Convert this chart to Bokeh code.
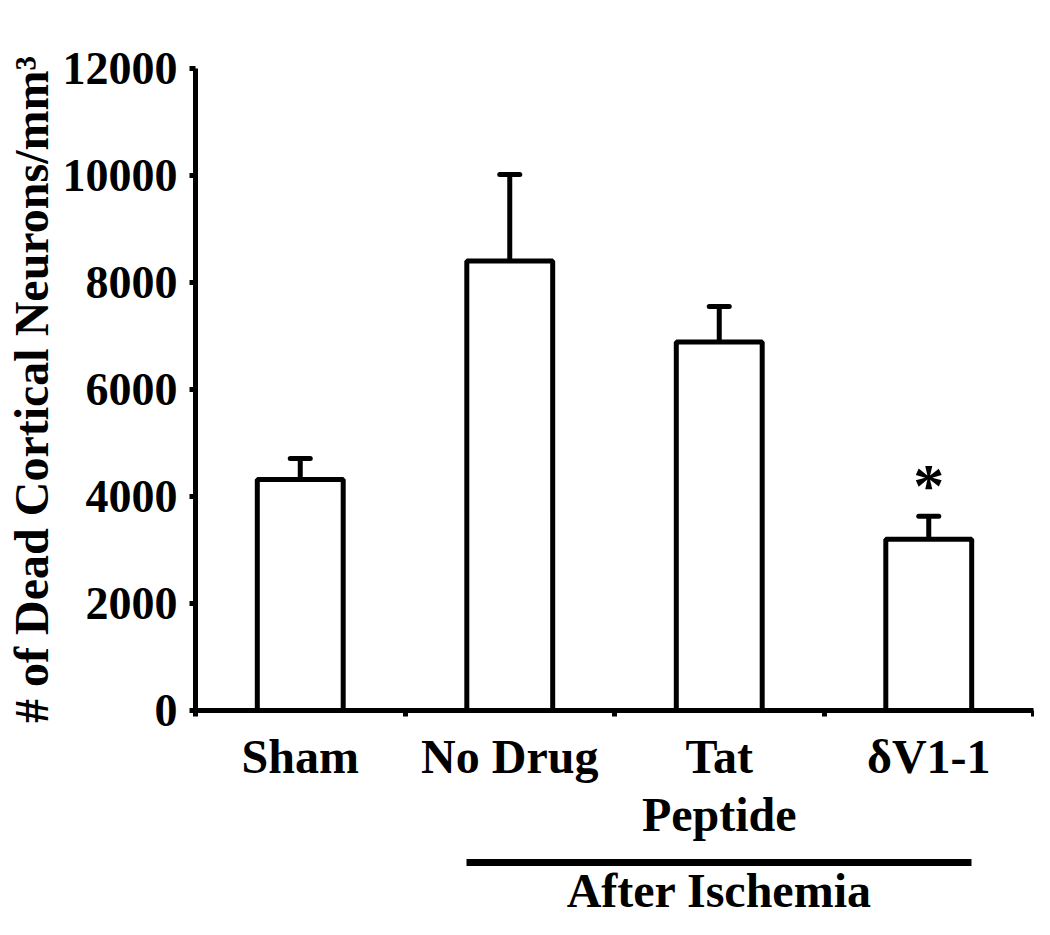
import numpy as np
from bokeh.plotting import figure
from bokeh.models import (ColumnDataSource, Range1d, LinearAxis, FixedTicker,
                          Whisker, TeeHead)
from bokeh.core.properties import value
from bokeh.embed import file_html
from bokeh.resources import INLINE

# ---------------- data ----------------
categories = ["Sham", "No Drug", "Tat", "δV1-1"]
second_line = ["", "", "Peptide", ""]
means = [4320, 8400, 6890, 3200]
sem = [390, 1620, 660, 430]
marks = ["", "", "", "*"]
group_label = "After Ischemia"
group_members = ["No Drug", "Tat", "δV1-1"]
y_ticks = [0, 2000, 4000, 6000, 8000, 10000, 12000]
y_label = "# of Dead Cortical Neurons/mm³"

# ---------------- style ----------------
FONT = "Liberation Serif"
FS_TICK = "46px"
FS_CAT = "48px"
BAR_W = 0.41
LW = 5
INK = "black"

n = len(categories)
xc = np.arange(n) + 0.5
upper = np.array(means) + np.array(sem)
src = ColumnDataSource(dict(x=xc, top=means, upper=upper, mark=marks))

p = figure(width=1034, height=919,
           x_range=Range1d(0, n), y_range=Range1d(0, y_ticks[-1]),
           output_backend="svg", toolbar_location=None,
           x_axis_type=None, y_axis_type=None,
           min_border_left=195, min_border_right=1,
           min_border_top=68, min_border_bottom=209)
p.outline_line_color = None
p.background_fill_color = "white"
p.border_fill_color = "white"

# bars
p.vbar(x="x", top="top", width=BAR_W, bottom=0, source=src,
       fill_color="white", line_color=INK, line_width=LW)

# error bars (upper only)
p.add_layout(Whisker(source=src, base="x", lower="top", upper="upper",
                     dimension="height", line_width=LW, line_color=INK,
                     upper_head=TeeHead(size=20, line_width=LW, line_color=INK,
                                        line_cap="round"),
                     lower_head=None))

# significance mark
p.text(x="x", y="upper", text="mark", source=src,
       text_font=value(FONT), text_font_style="bold", text_font_size="62px",
       text_align="center", text_baseline="alphabetic", y_offset=-31,
       text_color=INK)


def style_text(ax, standoff, size):
    ax.major_label_text_font = FONT
    ax.major_label_text_font_style = "bold"
    ax.major_label_text_font_size = size
    ax.major_label_text_color = INK
    ax.major_label_standoff = standoff


def bare(ax):
    ax.major_tick_line_color = None
    ax.minor_tick_line_color = None
    ax.major_tick_out = 0
    ax.major_tick_in = 0
    ax.minor_tick_out = 0
    ax.minor_tick_in = 0


# ---------------- y axis ----------------
yaxis = LinearAxis(ticker=FixedTicker(ticks=y_ticks), axis_label=y_label)
yaxis.axis_line_width = LW
yaxis.axis_line_color = INK
yaxis.major_tick_line_width = LW
yaxis.major_tick_line_color = INK
yaxis.major_tick_out = 6
yaxis.major_tick_in = 0
yaxis.minor_tick_line_color = None
style_text(yaxis, 12, FS_TICK)
yaxis.axis_label_text_font = FONT
yaxis.axis_label_text_font_style = "bold"
yaxis.axis_label_text_font_size = FS_CAT
yaxis.axis_label_text_color = INK
yaxis.axis_label_standoff = 2
p.add_layout(yaxis, "left")

# ---------------- x axis (category names) ----------------
xa = LinearAxis(ticker=FixedTicker(ticks=[float(v) for v in xc],
                                   minor_ticks=[float(v) for v in range(n + 1)]))
xa.major_label_overrides = {float(v): c for v, c in zip(xc, categories)}
xa.axis_line_width = LW
xa.axis_line_color = INK
xa.major_tick_out = 0
xa.major_tick_in = 0
xa.major_tick_line_color = None
xa.minor_tick_out = 6
xa.minor_tick_in = 0
xa.minor_tick_line_width = LW
xa.minor_tick_line_color = INK
style_text(xa, 13, FS_CAT)
p.add_layout(xa, "below")

# second line of labels
xb = LinearAxis(ticker=FixedTicker(ticks=[float(v) for v, s in zip(xc, second_line) if s]))
xb.major_label_overrides = {float(v): s for v, s in zip(xc, second_line) if s}
xb.axis_line_color = None
bare(xb)
style_text(xb, 2, FS_CAT)
xb.axis_label = "\u00a0"
xb.axis_label_text_font_size = "14px"
xb.axis_label_standoff = 0
p.add_layout(xb, "below")

# group bracket
idx = [categories.index(m) for m in group_members]
g_lo = float(xc[idx[0]] - BAR_W / 2)
g_hi = float(xc[idx[-1]] + BAR_W / 2)
g_mid = float(np.mean([xc[i] for i in idx]))
xg = LinearAxis(ticker=FixedTicker(ticks=[g_mid]), bounds=(g_lo, g_hi))
xg.major_label_overrides = {g_mid: group_label}
xg.axis_line_width = 7
xg.axis_line_color = INK
bare(xg)
style_text(xg, 1, FS_CAT)
p.add_layout(xg, "below")

open("out.html", "w").write(file_html(p, INLINE))
